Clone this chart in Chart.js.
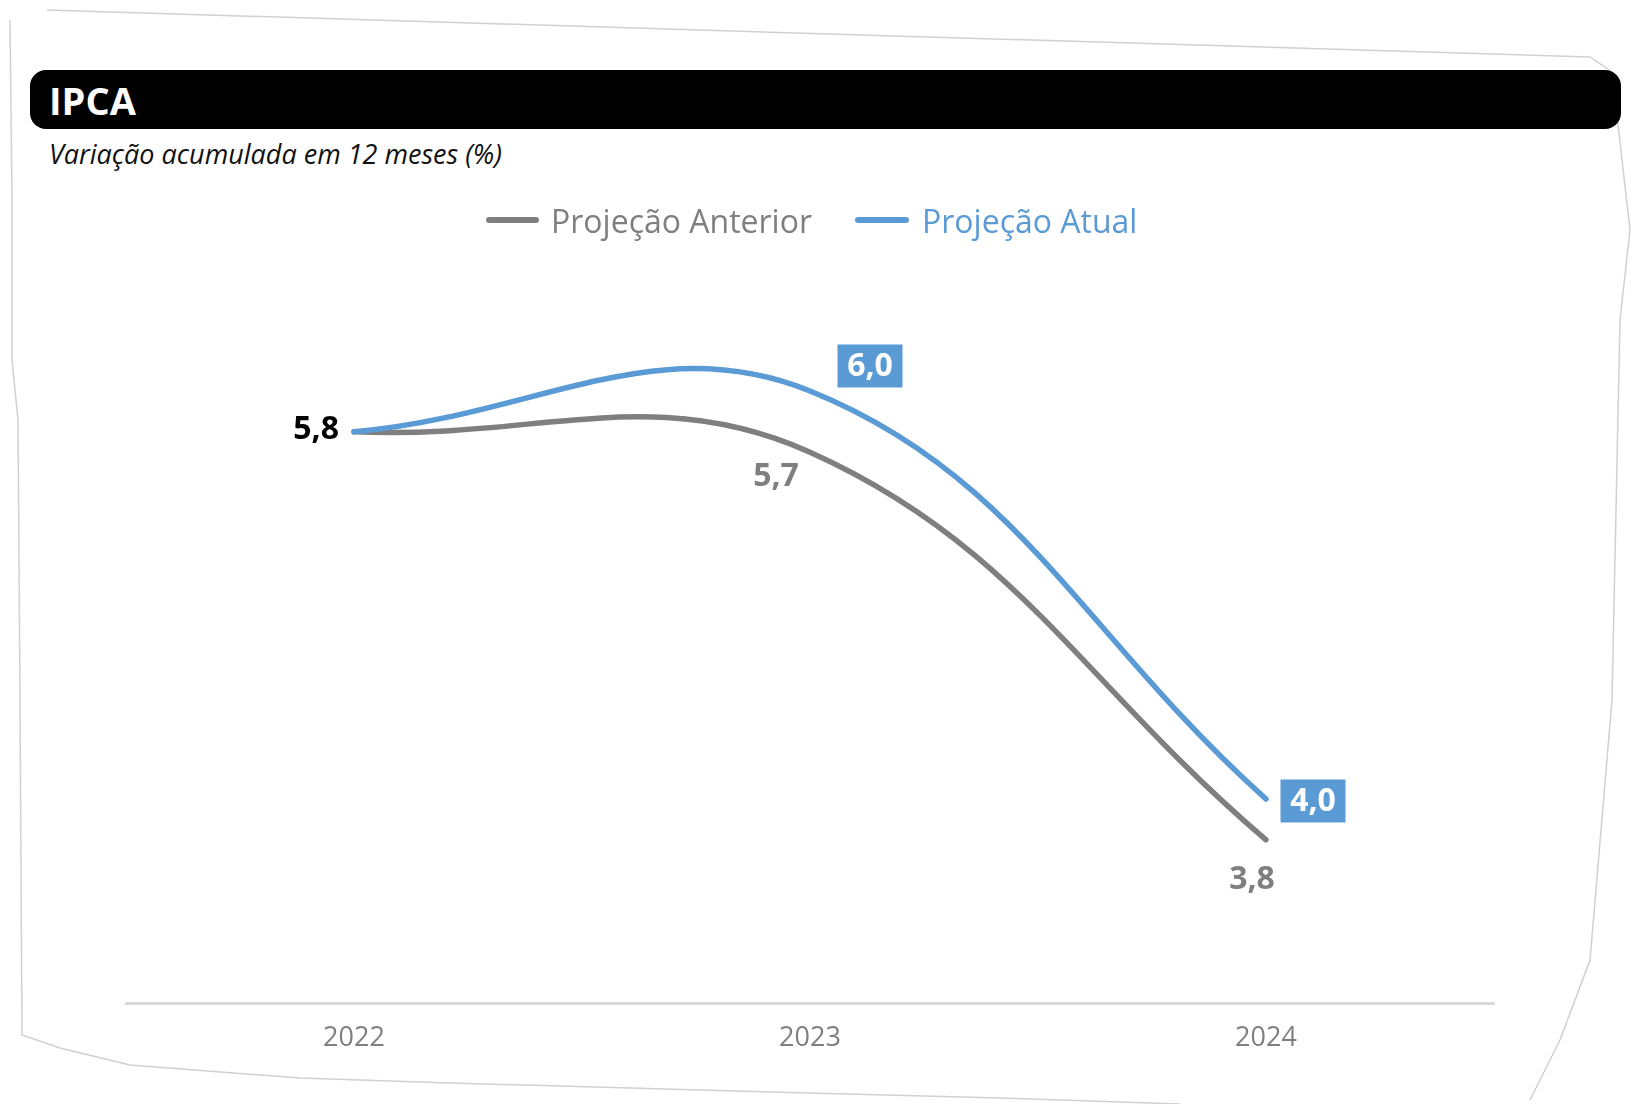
<!DOCTYPE html>
<html>
<head>
<meta charset="utf-8">
<script src="https://cdn.jsdelivr.net/npm/chart.js@4.4.0/dist/chart.umd.min.js"></script>
<style>
  html,body{margin:0;padding:0;background:#fff;}
  body{width:1635px;height:1104px;position:relative;overflow:hidden;font-family:"Open Sans","Noto Sans",sans-serif;}
  #edges{position:absolute;left:0;top:0;}
  #bar{position:absolute;left:30px;top:70px;width:1591px;height:59px;background:#000;border-radius:16px;}
  #title{position:absolute;left:49px;top:100px;transform:translateY(-50%);color:#fff;font-weight:700;font-size:38px;}
  #subtitle{position:absolute;left:49px;top:153px;transform:translateY(-50%);color:#111;font-style:italic;font-size:27px;}
  .leg-line{position:absolute;height:6px;border-radius:3px;}
  .leg-text{position:absolute;font-size:32px;transform:translateY(-50%);white-space:nowrap;}
  #wrap{position:absolute;left:0;top:0;width:1635px;height:1104px;}
</style>
</head>
<body>
<svg id="edges" width="1635" height="1104">
  <polyline points="47,10 700,30 1590,57 1612,72 1630,230 1620,320 1612,700 1590,960 1560,1040 1530,1100" fill="none" stroke="#d0d0d0" stroke-width="1.5"/>
  <polyline points="10,20 12,200 12,360 18,420 20,700 22,1035 60,1048 130,1065 300,1078 450,1083 700,1090 1000,1098 1180,1104" fill="none" stroke="#d0d0d0" stroke-width="1.5"/>
</svg>
<div id="bar"></div>
<div id="title">IPCA</div>
<div id="subtitle">Variação acumulada em 12 meses (%)</div>
<div id="wrap"><canvas id="c" width="1635" height="1104"></canvas></div>
<div class="leg-line" style="left:486px;top:217px;width:53px;background:#7f7f7f"></div>
<div class="leg-text" style="left:551px;top:220px;color:#7f7f7f">Projeção Anterior</div>
<div class="leg-line" style="left:855px;top:217px;width:54px;background:#5b9bd5"></div>
<div class="leg-text" style="left:922px;top:220px;color:#5b9bd5">Projeção Atual</div>
<script>
const categories = ['2022', '2023', '2024'];
const seriesNames = ['Projeção Anterior', 'Projeção Atual'];
const anteriorValues = [5.8, 5.7, 3.8];
const atualValues = [5.8, 6.0, 4.0];

const GREY = '#7f7f7f';
const BLUE = '#5b9bd5';

function fmt(v){ return v.toFixed(1).replace('.', ','); }

// label styles per dataset per point (null = no label)
const labelStyles = [
  [ {kind:'text', color:'#000', align:'right', dx:-15, dy:-2},
    {kind:'text', color:GREY, align:'center', dx:-34, dy:25},
    {kind:'text', color:GREY, align:'center', dx:-14, dy:40} ],
  [ null,
    {kind:'box', dx:60, dy:-25},
    {kind:'box', dx:47, dy:2} ]
];

const labelPlugin = {
  id: 'valueLabels',
  afterDatasetsDraw(chart){
    const ctx = chart.ctx;
    ctx.save();
    ctx.font = '700 32px "Open Sans", "Noto Sans", sans-serif';
    ctx.textBaseline = 'middle';
    chart.data.datasets.forEach((ds, di) => {
      const meta = chart.getDatasetMeta(di);
      meta.data.forEach((pt, i) => {
        const st = labelStyles[di][i];
        if (!st) return;
        const txt = fmt(ds.data[i]);
        const x = pt.x + st.dx, y = pt.y + st.dy;
        if (st.kind === 'box') {
          const w = 65, h = 43;
          ctx.fillStyle = BLUE;
          ctx.fillRect(x - w/2, y - h/2, w, h);
          ctx.fillStyle = '#fff';
          ctx.textAlign = 'center';
          ctx.fillText(txt, x, y + 1);
        } else {
          ctx.fillStyle = st.color;
          ctx.textAlign = st.align;
          ctx.fillText(txt, x, y);
        }
      });
    });
    ctx.restore();
  }
};

new Chart(document.getElementById('c'), {
  type: 'line',
  data: {
    labels: categories,
    datasets: [
      { label: seriesNames[0], data: anteriorValues, borderColor: GREY, backgroundColor: GREY,
        borderWidth: 5.5, tension: 0.4, pointRadius: 0, borderCapStyle: 'round', order: 1 },
      { label: seriesNames[1], data: atualValues, borderColor: BLUE, backgroundColor: BLUE,
        borderWidth: 5.5, tension: 0.4, pointRadius: 0, borderCapStyle: 'round', order: 0 }
    ]
  },
  options: {
    responsive: false,
    animation: false,
    layout: { padding: { left: 126, right: 141, top: 289, bottom: 37 } },
    plugins: { legend: { display: false }, tooltip: { enabled: false } },
    scales: {
      x: {
        offset: true,
        grid: { display: false, drawTicks: false },
        border: { display: true, color: '#d9d9d9', width: 3 },
        ticks: { color: '#7f7f7f', font: { family: '"Open Sans", "Noto Sans", sans-serif', size: 27 }, padding: 19 },
        afterFit(scale){ scale.height = 64; }
      },
      y: {
        display: false,
        min: 3.0,
        max: 6.5
      }
    }
  },
  plugins: [labelPlugin]
});
</script>
</body>
</html>
